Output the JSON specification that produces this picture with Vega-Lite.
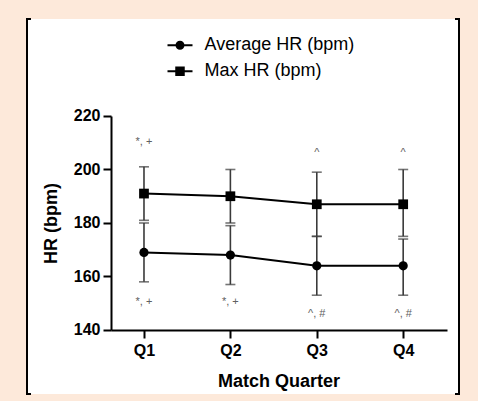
{
  "$schema": "https://vega.github.io/schema/vega-lite/v6.json",
  "width": 432,
  "height": 375,
  "autosize": "none",
  "padding": {"left": 27, "top": 19, "right": 19, "bottom": 7},
  "background": "#fde9da",
  "datasets": {
    "hr": [
      {"quarter": "Q1", "series": "Average HR (bpm)", "mean": 169, "lo": 158, "hi": 180},
      {"quarter": "Q2", "series": "Average HR (bpm)", "mean": 168, "lo": 157, "hi": 179},
      {"quarter": "Q3", "series": "Average HR (bpm)", "mean": 164, "lo": 153, "hi": 175},
      {"quarter": "Q4", "series": "Average HR (bpm)", "mean": 164, "lo": 153, "hi": 174},
      {"quarter": "Q1", "series": "Max HR (bpm)", "mean": 191, "lo": 181, "hi": 201},
      {"quarter": "Q2", "series": "Max HR (bpm)", "mean": 190, "lo": 180, "hi": 200},
      {"quarter": "Q3", "series": "Max HR (bpm)", "mean": 187, "lo": 175, "hi": 199},
      {"quarter": "Q4", "series": "Max HR (bpm)", "mean": 187, "lo": 175, "hi": 200}
    ],
    "notes": [
      {"quarter": "Q1", "value": 210.4, "label": "*, +"},
      {"quarter": "Q1", "value": 150.6, "label": "*, +"},
      {"quarter": "Q2", "value": 150.6, "label": "*, +"},
      {"quarter": "Q3", "value": 206.3, "label": "^"},
      {"quarter": "Q4", "value": 206.3, "label": "^"},
      {"quarter": "Q3", "value": 145.8, "label": "^, #"},
      {"quarter": "Q4", "value": 145.8, "label": "^, #"}
    ]
  },
  "data": {"name": "hr"},
  "encoding": {
    "x": {
      "field": "quarter",
      "type": "nominal",
      "title": "Match Quarter",
      "scale": {"type": "point", "domain": ["Q1", "Q2", "Q3", "Q4"], "padding": 1.305, "align": 0.677}
    }
  },
  "layer": [
    {
      "mark": {"type": "rule", "color": "#3a3a3a", "strokeWidth": 1.6},
      "encoding": {
        "y": {"field": "lo", "type": "quantitative", "title": "HR (bpm)", "scale": {"domain": [116.07, 256.26], "nice": false, "zero": false}, "axis": {"values": [140, 160, 180, 200, 220]}},
        "y2": {"field": "hi"},
        "detail": {"field": "series"}
      }
    },
    {
      "mark": {"type": "tick", "color": "#3a3a3a", "size": 10, "thickness": 1.6},
      "encoding": {
        "y": {"field": "lo", "type": "quantitative", "title": "HR (bpm)", "axis": {"values": [140, 160, 180, 200, 220]}},
        "detail": {"field": "series"}
      }
    },
    {
      "mark": {"type": "tick", "color": "#3a3a3a", "size": 10, "thickness": 1.6},
      "encoding": {
        "y": {"field": "hi", "type": "quantitative", "title": "HR (bpm)", "axis": {"values": [140, 160, 180, 200, 220]}},
        "detail": {"field": "series"}
      }
    },
    {
      "mark": {"type": "line", "color": "black", "strokeWidth": 2},
      "encoding": {
        "y": {"field": "mean", "type": "quantitative", "title": "HR (bpm)", "axis": {"values": [140, 160, 180, 200, 220]}},
        "detail": {"field": "series"}
      }
    },
    {
      "transform": [{"filter": "datum.series === 'Average HR (bpm)'"}],
      "mark": {"type": "point", "shape": "circle", "filled": true, "color": "black", "size": 85, "opacity": 1},
      "encoding": {
        "y": {"field": "mean", "type": "quantitative", "title": "HR (bpm)", "axis": {"values": [140, 160, 180, 200, 220]}}
      }
    },
    {
      "transform": [{"filter": "datum.series === 'Max HR (bpm)'"}],
      "mark": {"type": "point", "shape": "square", "filled": true, "color": "black", "size": 95, "opacity": 1},
      "encoding": {
        "y": {"field": "mean", "type": "quantitative", "title": "HR (bpm)", "axis": {"values": [140, 160, 180, 200, 220]}}
      }
    },
    {
      "transform": [{"filter": "false"}],
      "mark": {"type": "point", "filled": true, "color": "black", "opacity": 1},
      "encoding": {
        "y": {"field": "mean", "type": "quantitative", "title": "HR (bpm)", "axis": {"values": [140, 160, 180, 200, 220]}},
        "shape": {
          "field": "series",
          "type": "nominal",
          "scale": {
            "domain": ["Average HR (bpm)", "Max HR (bpm)"],
            "range": [
              "M-1,-0.08H1V0.08H-1ZM0.36,0A0.36,0.36,0,1,1,-0.36,0A0.36,0.36,0,1,1,0.36,0Z",
              "M-1,-0.08H1V0.08H-1ZM-0.38,-0.38H0.38V0.38H-0.38Z"
            ]
          },
          "legend": {
            "orient": "none",
            "legendX": 139.5,
            "legendY": 12.8,
            "title": null,
            "padding": 0,
            "symbolSize": 625,
            "symbolFillColor": "black",
            "symbolOpacity": 1,
            "labelFont": "Liberation Sans",
            "labelFontSize": 18,
            "labelColor": "black",
            "labelOffset": 11,
            "labelLimit": 400,
            "rowPadding": 3
          }
        }
      }
    },
    {
      "data": {"name": "notes"},
      "mark": {"type": "text", "font": "Liberation Sans", "fontSize": 11, "color": "#606060", "baseline": "middle", "align": "center"},
      "encoding": {
        "y": {"field": "value", "type": "quantitative", "title": "HR (bpm)", "axis": {"values": [140, 160, 180, 200, 220]}},
        "text": {"field": "label"}
      }
    }
  ],
  "config": {
    "view": {"fill": "white", "stroke": "black", "strokeWidth": 2, "strokeDash": [4, 424, 383, 424, 379]},
    "axisX": {
      "offset": -64,
      "domainDash": [0, 84, 336, 400],
      "domainColor": "black",
      "domainWidth": 2,
      "tickColor": "black",
      "tickWidth": 2,
      "tickSize": 8,
      "labelAngle": 0,
      "labelFont": "Liberation Sans",
      "labelFontSize": 16,
      "labelFontWeight": "bold",
      "labelColor": "black",
      "labelPadding": 4,
      "grid": false,
      "titleFont": "Liberation Sans",
      "titleFontSize": 18,
      "titleFontWeight": "bold",
      "titleColor": "black",
      "titleX": 251.5,
      "titleY": 56,
      "titleAlign": "center",
      "titleBaseline": "alphabetic"
    },
    "axisY": {
      "offset": -84,
      "domainDash": [0, 64, 214, 400],
      "domainColor": "black",
      "domainWidth": 2,
      "tickColor": "black",
      "tickWidth": 2,
      "tickSize": 8,
      "labelFont": "Liberation Sans",
      "labelFontSize": 16,
      "labelFontWeight": "bold",
      "labelColor": "black",
      "labelPadding": 3,
      "grid": false,
      "titleFont": "Liberation Sans",
      "titleFontSize": 18,
      "titleFontWeight": "bold",
      "titleColor": "black",
      "titleX": -60,
      "titleY": 204,
      "titleAngle": -90,
      "titleAlign": "center",
      "titleBaseline": "middle"
    }
  }
}
